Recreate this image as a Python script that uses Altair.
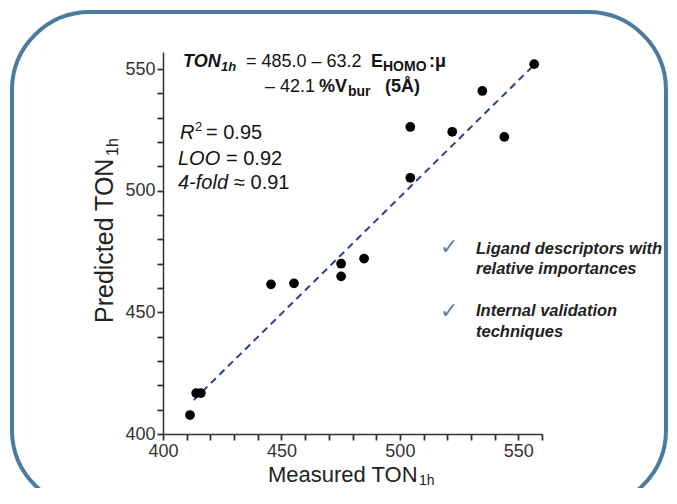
import altair as alt
import pandas as pd

# ---- data ----
measured = [411.4, 414.0, 416.0, 445.6, 455.3, 475.2, 475.2, 484.9, 504.4, 504.4, 522.1, 534.8, 544.1, 556.7]
predicted = [407.8, 416.8, 416.8, 461.5, 461.9, 470.0, 464.8, 472.1, 526.2, 505.3, 524.2, 541.0, 522.1, 552.0]
fit_x = [413.0, 557.0]
fit_y = [414.0, 552.0]
x_ticks = list(range(400, 561, 10))
y_ticks = list(range(400, 551, 10))

FONT = "Liberation Sans"
OX, OY = 163, 52  # plot origin on the page

pts = pd.DataFrame({"m": measured, "p": predicted})
fit = pd.DataFrame({"m": fit_x, "p": fit_y})
one = pd.DataFrame({"a": [0]})

xscale = alt.Scale(domain=[400, 560], nice=False, zero=False)
yscale = alt.Scale(domain=[400, 557], nice=False, zero=False)
lab = "datum.value % 50 == 0 ? datum.label : ''"

xaxis = alt.Axis(values=x_ticks, tickCount=100, labelExpr=lab, title=None, grid=False,
                 ticks=True, tickSize=6, tickWidth=1.8, tickColor="#333333", tickOpacity=1,
                 labelOverlap=False, labelFlush=False, labelBound=False)
yaxis = alt.Axis(values=y_ticks, tickCount=100, labelExpr=lab, title=None, grid=False,
                 ticks=True, tickSize=6, tickWidth=1.8, tickColor="#333333", tickOpacity=1,
                 labelOverlap=False, labelFlush=False, labelBound=False)

points = alt.Chart(pts).mark_circle(size=95, color="black", opacity=1).encode(
    x=alt.X("m:Q", scale=xscale, axis=xaxis),
    y=alt.Y("p:Q", scale=yscale, axis=yaxis),
)
line = alt.Chart(fit).mark_line(color="#2e3f8f", strokeDash=[7, 5], strokeWidth=2).encode(
    x=alt.X("m:Q", scale=xscale), y=alt.Y("p:Q", scale=yscale)
)


def txt(s, px, py, size, weight="normal", style="normal", color="#141414", angle=0, font=FONT):
    return alt.Chart(one).mark_text(
        text=s, fontSize=size, fontWeight=weight, fontStyle=style, color=color,
        font=font, align="left", baseline="alphabetic", angle=angle,
    ).encode(x=alt.value(px - OX), y=alt.value(py - OY))


frame = alt.Chart(one).mark_rect(
    fillOpacity=0, stroke="#4b7c9f", strokeWidth=4, cornerRadius=78
).encode(x=alt.value(12 - OX), x2=alt.value(666 - OX), y=alt.value(12 - OY), y2=alt.value(508 - OY))

ann = [
    # equation line 1
    txt("TON", 183, 67, 18, "bold", "italic"),
    txt("1h", 221, 71, 13, "bold", "italic"),
    txt("= 485.0 – 63.2", 246, 67, 18),
    txt("E", 371, 67, 18, "bold"),
    txt("HOMO", 383, 71, 14, "bold"),
    txt(":μ", 429, 67, 18, "bold"),
    # equation line 2
    txt("– 42.1", 265, 92, 18),
    txt("%V", 319, 92, 18, "bold"),
    txt("bur", 348, 96, 14, "bold"),
    txt("(5Å)", 385, 92, 18, "bold"),
    # statistics
    txt("R", 180, 139, 20, style="italic"),
    txt("2", 195, 131, 13),
    txt("= 0.95", 206, 139, 20),
    txt("LOO", 178, 165, 20, style="italic"),
    txt("= 0.92", 226, 165, 20),
    txt("4-fold", 178, 189, 20, style="italic"),
    txt("≈ 0.91", 234, 189, 20),
    # checklist
    txt("✓", 440, 254, 22, color="#5b82a8", font="DejaVu Sans"),
    txt("Ligand descriptors with", 476, 254, 16.5, "bold", "italic", "#222222"),
    txt("relative importances", 476, 274, 16.5, "bold", "italic", "#222222"),
    txt("✓", 440, 318, 22, color="#5b82a8", font="DejaVu Sans"),
    txt("Internal validation", 476, 316, 16.5, "bold", "italic", "#222222"),
    txt("techniques", 476, 337, 16.5, "bold", "italic", "#222222"),
    # axis titles
    txt("Measured TON", 268, 482, 22, color="#222222"),
    txt("1h", 419, 485, 14, color="#222222"),
    txt("Predicted TON", 113, 323, 25, color="#222222", angle=270),
    txt("1h", 118, 156, 16, color="#222222", angle=270),
]

chart = alt.layer(frame, line, points, *ann).properties(
    width=379, height=382,
    autosize=alt.AutoSizeParams(type="none"),
    padding={"left": 155, "top": 44, "right": 127, "bottom": 54},
).configure_view(stroke=None).configure_axis(
    domainColor="#333333", domainWidth=1.5,
    labelFontSize=18, labelColor="#333333", labelFont=FONT, labelPadding=2,
)

chart.save("out.html", embed_options={"renderer": "svg", "actions": False})
